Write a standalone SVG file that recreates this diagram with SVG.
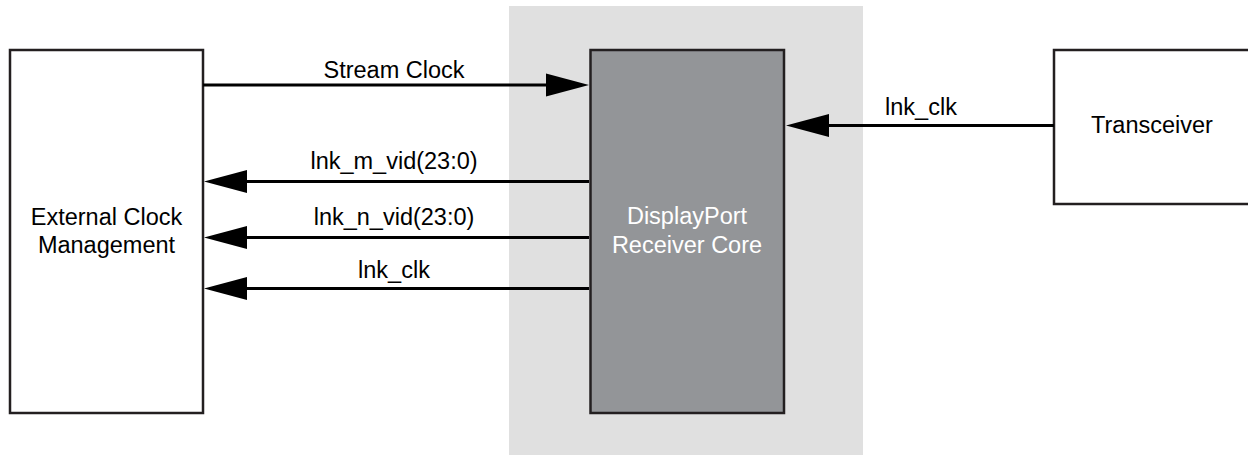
<svg xmlns="http://www.w3.org/2000/svg" width="1248" height="455" viewBox="0 0 1248 455">
<style>
.box{fill:#ffffff;stroke:#231f20;stroke-width:2.5}
.core{fill:#939598;stroke:#231f20;stroke-width:2.5}
.lbl{font-family:"Liberation Sans",Arial,sans-serif;font-size:23.5px;fill:#000;text-anchor:middle}
.wlbl{font-family:"Liberation Sans",Arial,sans-serif;font-size:23.5px;fill:#ffffff;text-anchor:middle}
.wire{stroke:#000;stroke-width:3.2;fill:none;marker-end:url(#ah)}
</style>
<defs>
<marker id="ah" markerUnits="userSpaceOnUse" markerWidth="44" markerHeight="24" refX="0" refY="11.5" orient="auto" overflow="visible">
<path d="M0,0 L43,11.5 L0,23 z" fill="#000"/>
</marker>
</defs>
<rect id="region" x="509" y="6" width="354" height="449" fill="#e0e0e0"/>
<g id="ext-clock">
<rect class="box" x="10" y="50" width="193" height="363"/>
<text class="lbl" x="106.5" y="225">External Clock</text>
<text class="lbl" x="106.5" y="253">Management</text>
</g>
<g id="dp-core">
<rect class="core" x="590.5" y="50" width="193.5" height="363"/>
<text class="wlbl" x="687" y="224">DisplayPort</text>
<text class="wlbl" x="687" y="253">Receiver Core</text>
</g>
<g id="transceiver">
<rect class="box" x="1054" y="50" width="200" height="154"/>
<text class="lbl" x="1152" y="133">Transceiver</text>
</g>
<g id="connectors">
<line class="wire" x1="203" y1="85" x2="546" y2="85"/>
<text class="lbl" x="394" y="78">Stream Clock</text>
<line class="wire" x1="589" y1="181.5" x2="247" y2="181.5"/>
<text class="lbl" x="394" y="169">lnk_m_vid(23:0)</text>
<line class="wire" x1="589" y1="237.5" x2="247" y2="237.5"/>
<text class="lbl" x="394" y="225">lnk_n_vid(23:0)</text>
<line class="wire" x1="589" y1="288.5" x2="247" y2="288.5"/>
<text class="lbl" x="394" y="278">lnk_clk</text>
<line class="wire" x1="1054" y1="125.5" x2="829" y2="125.5"/>
<text class="lbl" x="921" y="115">lnk_clk</text>
</g>
</svg>
